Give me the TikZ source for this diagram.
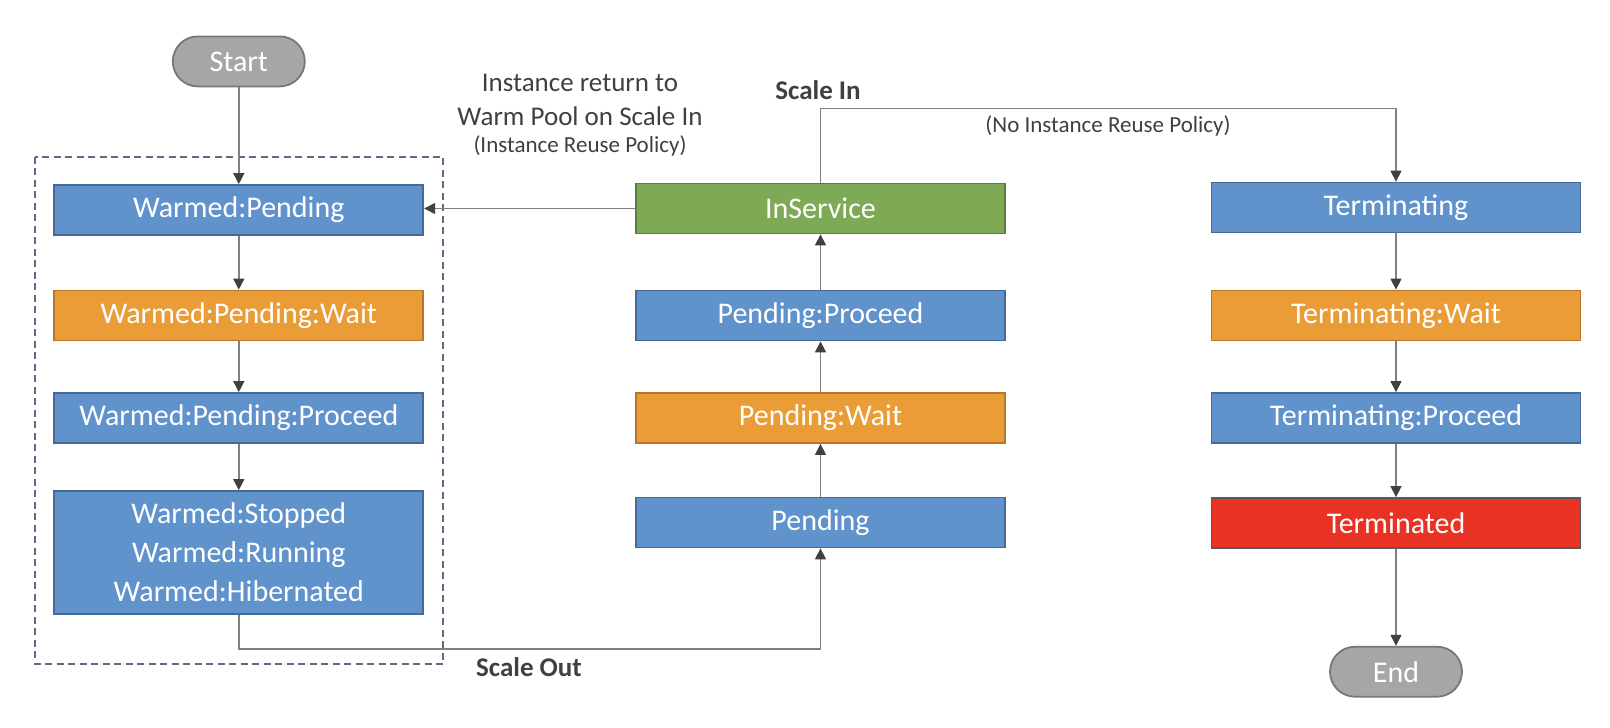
\documentclass[tikz,border=0pt]{standalone}
\usepackage{fontspec}
\setmainfont{Carlito}
\usetikzlibrary{arrows.meta}
\definecolor{boxblue}{HTML}{6092CC}
\definecolor{blueedge}{HTML}{46699A}
\definecolor{boxorange}{HTML}{EA9C37}
\definecolor{orangeedge}{HTML}{B9762A}
\definecolor{boxgreen}{HTML}{7FAA55}
\definecolor{greenedge}{HTML}{5C7F3C}
\definecolor{boxred}{HTML}{E83223}
\definecolor{rededge}{HTML}{5A5A5A}
\definecolor{pillgray}{HTML}{A6A6A6}
\definecolor{pilledge}{HTML}{777777}
\definecolor{linegray}{HTML}{808080}
\definecolor{tipgray}{HTML}{404040}
\definecolor{dashcol}{HTML}{5F6C84}
\definecolor{labelcol}{HTML}{404040}
\begin{document}
\begin{tikzpicture}[x=1pt,y=-1pt,
  statebox/.style={rectangle,draw,line width=1.8pt,minimum width=369pt,minimum height=50pt,
    text=white,font=\fontsize{30}{39}\selectfont,align=center,inner sep=0pt},
  bluebox/.style={statebox,fill=boxblue,draw=blueedge},
  orangebox/.style={statebox,fill=boxorange,draw=orangeedge},
  greenbox/.style={statebox,fill=boxgreen,draw=greenedge},
  redbox/.style={statebox,fill=boxred,draw=rededge},
  pill/.style={rectangle,rounded corners=25pt,draw=pilledge,fill=pillgray,line width=1.8pt,
    minimum width=132pt,minimum height=50pt,text=white,font=\fontsize{30}{36}\selectfont,inner sep=0pt},
  conn/.style={draw=linegray,line width=1.4pt,-{Triangle[length=11pt,width=11pt,color=tipgray]}},
  plainconn/.style={draw=linegray,line width=1.4pt},
  lbl/.style={text=labelcol,font=\fontsize{27}{33}\selectfont,inner sep=0pt},
  smalllbl/.style={text=labelcol,font=\fontsize{23}{28}\selectfont,inner sep=0pt},
  boldlbl/.style={text=labelcol,font=\fontsize{27}{33}\selectfont\bfseries,inner sep=0pt}
]
\useasboundingbox[fill=white] (0,0) rectangle (1610,728);

% warm pool dashed frame
\draw[dashcol,line width=1.8pt,dash pattern=on 7pt off 4.5pt] (35,156.7) rectangle (443.3,664);

% left column
\node[pill] (start) at (238.8,61.4) {Start};
\node[bluebox] (wp) at (238.8,210) {Warmed:Pending};
\node[orangebox] (wpw) at (238.8,315.5) {Warmed:Pending:Wait};
\node[bluebox] (wpp) at (238.8,418) {Warmed:Pending:Proceed};
\node[bluebox,minimum height=123pt] (wst) at (238.8,552.5) {Warmed:Stopped\\Warmed:Running\\Warmed:Hibernated};

% middle column
\node[greenbox] (ins) at (820.5,208.5) {InService};
\node[bluebox] (pp) at (820.5,315.5) {Pending:Proceed};
\node[orangebox] (pw) at (820.5,418) {Pending:Wait};
\node[bluebox] (pend) at (820.5,522.5) {Pending};

% right column
\node[bluebox] (term) at (1396,207.5) {Terminating};
\node[orangebox] (tw) at (1396,315.5) {Terminating:Wait};
\node[bluebox] (tp) at (1396,418) {Terminating:Proceed};
\node[redbox] (tmd) at (1396,523) {Terminated};
\node[pill] (end) at (1396,671.7) {End};

% labels
\node[lbl] (l1) at (580,83) {Instance return to};
\node[lbl] (l2) at (580,116) {Warm Pool on Scale In};
\node[smalllbl] (l3) at (580,146) {(Instance Reuse Policy)};
\node[boldlbl] (sin) at (818,90) {Scale In};
\node[smalllbl] (nirp) at (1108,126) {(No Instance Reuse Policy)};
\node[boldlbl] (sout) at (529,667) {Scale Out};

% connectors
\coordinate (sicorner) at (820.5,108.4);
\coordinate (socorner) at (238.8,649);
\draw[conn] (start) -- (wp);
\draw[conn] (wp) -- (wpw);
\draw[conn] (wpw) -- (wpp);
\draw[conn] (wpp) -- (wst);
\draw[conn] (wst.south) -- (socorner) -| (pend.south);
\draw[conn] (pend) -- (pw);
\draw[conn] (pw) -- (pp);
\draw[conn] (pp) -- (ins);
\draw[conn] (ins.west) -- (wp.east |- ins.west);
\draw[conn] (ins.north) -- (sicorner) -| (term.north);
\draw[conn] (term) -- (tw);
\draw[conn] (tw) -- (tp);
\draw[conn] (tp) -- (tmd);
\draw[conn] (tmd) -- (end);
\end{tikzpicture}
\end{document}
